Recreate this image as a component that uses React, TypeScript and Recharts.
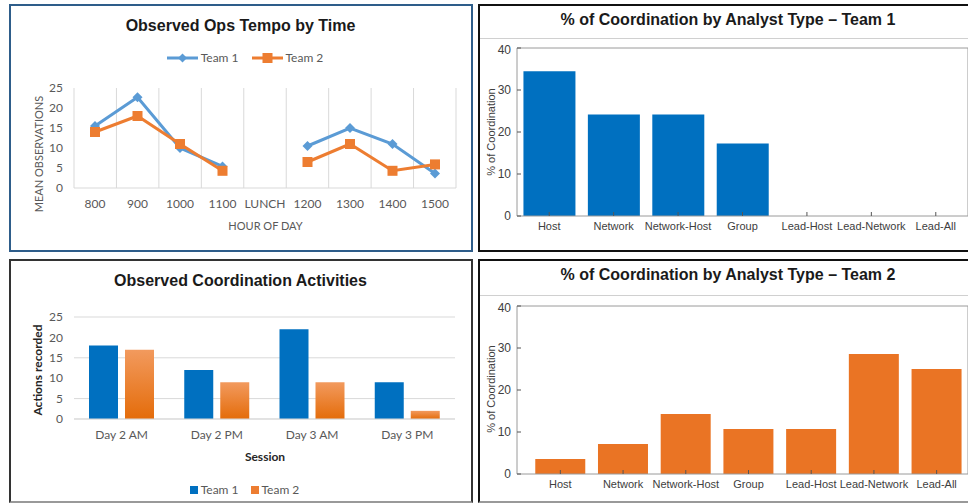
import React from "react";
import { LineChart, Line, BarChart, Bar, XAxis, YAxis, CartesianGrid, Legend } from "recharts";

// Observed Ops Tempo by Time
const hours = ["800", "900", "1000", "1100", "LUNCH", "1200", "1300", "1400", "1500"];
const tempoTeam1 = [15.5, 22.7, 10, 5.4, null, 10.5, 15, 11, 3.6];
const tempoTeam2 = [14, 18, 11, 4.3, null, 6.5, 11, 4.3, 5.9];
const tempoTicks = [0, 5, 10, 15, 20, 25];

// Observed Coordination Activities
const sessions = ["Day 2 AM", "Day 2 PM", "Day 3 AM", "Day 3 PM"];
const actionsTeam1 = [18, 12, 22, 9];
const actionsTeam2 = [17, 9, 9, 2];
const actionTicks = [0, 5, 10, 15, 20, 25];

// % of Coordination by Analyst Type
const analystTypes = ["Host", "Network", "Network-Host", "Group", "Lead-Host", "Lead-Network", "Lead-All"];
const coordTeam1 = [34.48, 24.14, 24.14, 17.24, 0, 0, 0];
const coordTeam2 = [3.57, 7.14, 14.29, 10.71, 10.71, 28.57, 25];
const coordTicks = [0, 10, 20, 30, 40];

const BLUE_LINE = "#5b9bd5";
const ORANGE_LINE = "#ed7d31";
const EXCEL_FONT = "Lato, sans-serif";
const MATLAB_FONT = "'Liberation Sans', Arial, sans-serif";

const tempoData = hours.map((h, i) => ({ hour: h, team1: tempoTeam1[i], team2: tempoTeam2[i] }));
const actionData = sessions.map((s, i) => ({ session: s, team1: actionsTeam1[i], team2: actionsTeam2[i] }));
const coord1Data = analystTypes.map((t, i) => ({ type: t, value: coordTeam1[i] }));
const coord2Data = analystTypes.map((t, i) => ({ type: t, value: coordTeam2[i] }));

function DiamondDot(p: any) {
    if (p.cx == null || p.cy == null || p.value == null) return <g key={`d${p.index}`} />;
    const { cx, cy } = p;
    return <polygon key={`d${p.index}`} points={`${cx},${cy - 5} ${cx + 5},${cy} ${cx},${cy + 5} ${cx - 5},${cy}`} fill={BLUE_LINE} />;
}

function SquareDot(p: any) {
    if (p.cx == null || p.cy == null || p.value == null) return <g key={`s${p.index}`} />;
    return <rect key={`s${p.index}`} x={p.cx - 5} y={p.cy - 5} width={10} height={10} fill={ORANGE_LINE} />;
}

const TempoLegend = () => (
    <div style={{ display: "flex", justifyContent: "center", gap: 13, fontFamily: EXCEL_FONT, fontSize: 12, color: "#595959", lineHeight: "14px" }}>
        <span style={{ display: "flex", alignItems: "center" }}>
            <svg width={31} height={12}>
                <line x1={0} y1={6} x2={31} y2={6} stroke={BLUE_LINE} strokeWidth={3} />
                <polygon points="15.5,1.5 20,6 15.5,10.5 11,6" fill={BLUE_LINE} />
            </svg>
            <span style={{ marginLeft: 3 }}>Team 1</span>
        </span>
        <span style={{ display: "flex", alignItems: "center" }}>
            <svg width={31} height={12}>
                <line x1={0} y1={6} x2={31} y2={6} stroke={ORANGE_LINE} strokeWidth={3} />
                <rect x={10.5} y={1} width={10} height={10} fill={ORANGE_LINE} />
            </svg>
            <span style={{ marginLeft: 3 }}>Team 2</span>
        </span>
    </div>
);

const ActionLegend = () => (
    <div style={{ display: "flex", justifyContent: "center", gap: 12, fontFamily: EXCEL_FONT, fontSize: 12, color: "#595959", lineHeight: "14px" }}>
        <span style={{ display: "flex", alignItems: "center" }}>
            <span style={{ width: 8, height: 8, background: "#0070c0", marginRight: 3 }} />Team 1
        </span>
        <span style={{ display: "flex", alignItems: "center" }}>
            <span style={{ width: 8, height: 8, background: "#ed7d31", marginRight: 3 }} />Team 2
        </span>
    </div>
);

const abs = (left: number, top: number): React.CSSProperties => ({ position: "absolute", left, top });

function Title({ text, cx, cy, font, size = 16 }: { text: string; cx: number; cy: number; font: string; size?: number }) {
    return (
        <div style={{ position: "absolute", left: cx, top: cy, transform: "translate(-50%, -50%)", whiteSpace: "nowrap",
            fontFamily: font, fontSize: size, fontWeight: 700, color: "#1a1a1a", lineHeight: 1 }}>
            {text}
        </div>
    );
}

function AxisTitle({ text, cx, cy, font, size, bold, rotate, color }: any) {
    return (
        <div style={{ position: "absolute", left: cx, top: cy, whiteSpace: "nowrap", lineHeight: 1,
            transform: `translate(-50%, -50%)${rotate ? " rotate(-90deg)" : ""}`,
            fontFamily: font, fontSize: size, fontWeight: bold ? 700 : 400, color }}>
            {text}
        </div>
    );
}

function CoordChart({ data, color, padLeft, top }: { data: { type: string; value: number }[]; color: string; padLeft: number; top: number }) {
    const tickFont = { fontSize: 11, fill: "#404040", fontFamily: MATLAB_FONT };
    return (
        <div style={abs(478, top)}>
            <BarChart width={490} height={200} data={data} margin={{ top: 6, right: 0, bottom: 6, left: 9 }} barCategoryGap="10%">
                <XAxis dataKey="type" interval={0} height={20} tick={tickFont} tickSize={-4} tickMargin={10}
                    tickLine={{ stroke: "#555" }} axisLine={{ stroke: "#9a9a9a" }} padding={{ left: padLeft, right: 0 }} />
                <XAxis xAxisId="top" orientation="top" dataKey="type" interval={0} height={1} mirror tick={false}
                    tickSize={4} tickLine={{ stroke: "#555" }} axisLine={{ stroke: "#9a9a9a" }} padding={{ left: padLeft, right: 0 }} />
                <YAxis domain={[0, 40]} ticks={coordTicks} width={30} tick={{ ...tickFont, fontSize: 12 }} tickSize={-4} tickMargin={10}
                    tickLine={{ stroke: "#555" }} axisLine={{ stroke: "#9a9a9a" }} />
                <YAxis yAxisId="right" orientation="right" domain={[0, 40]} ticks={coordTicks} width={1} mirror tick={false}
                    tickSize={4} tickLine={{ stroke: "#555" }} axisLine={{ stroke: "#9a9a9a" }} />
                <Bar dataKey="value" fill={color} isAnimationActive={false} />
            </BarChart>
        </div>
    );
}

export default function App() {
    const excelTick = { fontSize: 12, fill: "#595959", fontFamily: EXCEL_FONT };
    return (
        <div style={{ position: "absolute", left: 0, top: 0, width: 968, height: 504, overflow: "hidden", background: "#fff" }}>
            {/* panel frames */}
            <div style={{ ...abs(9, 4), width: 464, height: 248, border: "2px solid #2e5d8a", boxSizing: "border-box" }} />
            <div style={{ ...abs(478, 4), width: 500, height: 248, border: "2px solid #111", boxSizing: "border-box" }} />
            <div style={{ ...abs(9, 259), width: 464, height: 244, border: "2px solid #333", borderBottomColor: "#999", boxSizing: "border-box" }} />
            <div style={{ ...abs(478, 259), width: 500, height: 244, border: "2px solid #111", borderBottomColor: "#999", boxSizing: "border-box" }} />
            <div style={{ ...abs(480, 38), width: 490, height: 1, background: "#d0d0d0" }} />
            <div style={{ ...abs(480, 295), width: 490, height: 1, background: "#d0d0d0" }} />

            {/* top-left: line chart */}
            <Title text="Observed Ops Tempo by Time" cx={240.5} cy={26} font="'Liberation Sans', Arial, sans-serif" />
            <div style={abs(0, 40)}>
                <LineChart width={473} height={210} data={tempoData} margin={{ top: 48, right: 17, bottom: 38, left: 34 }}>
                    <CartesianGrid horizontal={false} stroke="#d9d9d9"
                        verticalCoordinatesGenerator={({ offset }: any) =>
                            hours.map((_, i) => offset.left + (i * offset.width) / hours.length).concat(offset.left + offset.width)} />
                    <XAxis dataKey="hour" interval={0} height={24} tick={excelTick} tickLine={false} tickSize={0} tickMargin={11}
                        axisLine={{ stroke: "#d9d9d9" }} padding={{ left: 21, right: 21 }} />
                    <YAxis domain={[0, 25]} ticks={tempoTicks} width={40} tick={excelTick} tickLine={false} tickSize={0}
                        tickMargin={11} axisLine={false} />
                    <Legend layout="horizontal" verticalAlign="middle" align="center" wrapperStyle={{ top: 11 }} content={TempoLegend} />
                    <Line dataKey="team1" stroke={BLUE_LINE} strokeWidth={3} dot={DiamondDot} activeDot={false} isAnimationActive={false} />
                    <Line dataKey="team2" stroke={ORANGE_LINE} strokeWidth={3} dot={SquareDot} activeDot={false} isAnimationActive={false} />
                </LineChart>
            </div>
            <AxisTitle text="MEAN OBSERVATIONS" cx={37.5} cy={154} font={EXCEL_FONT} size={11} rotate color="#595959" />
            <AxisTitle text="HOUR OF DAY" cx={265.5} cy={225} font={EXCEL_FONT} size={11} color="#595959" />

            {/* bottom-left: grouped bars */}
            <Title text="Observed Coordination Activities" cx={240.5} cy={281} font="'Liberation Sans', Arial, sans-serif" />
            <div style={abs(0, 290)}>
                <BarChart width={473} height={212} data={actionData} margin={{ top: 27, right: 18, bottom: 59, left: 34 }}
                    barCategoryGap={15} barGap={7}>
                    <defs>
                        <linearGradient id="team2grad" x1="0" y1="0" x2="0" y2="1">
                            <stop offset="0%" stopColor="#f29a5e" />
                            <stop offset="100%" stopColor="#e46c0a" />
                        </linearGradient>
                    </defs>
                    <CartesianGrid vertical={false} stroke="#d9d9d9" />
                    <XAxis dataKey="session" interval={0} height={24} tick={excelTick} tickLine={false} tickSize={0} tickMargin={11}
                        axisLine={{ stroke: "#d9d9d9" }} />
                    <YAxis domain={[0, 25]} ticks={actionTicks} width={40} tick={excelTick} tickLine={false} tickSize={0}
                        tickMargin={11} axisLine={false} />
                    <Legend layout="horizontal" verticalAlign="middle" align="center" wrapperStyle={{ top: 193 }} content={ActionLegend} />
                    <Bar dataKey="team1" fill="#0070c0" isAnimationActive={false} />
                    <Bar dataKey="team2" fill="url(#team2grad)" isAnimationActive={false} />
                </BarChart>
            </div>
            <AxisTitle text="Actions recorded" cx={37.5} cy={370} font={EXCEL_FONT} size={12} bold rotate color="#262626" />
            <AxisTitle text="Session" cx={265} cy={457} font={EXCEL_FONT} size={12} bold color="#262626" />

            {/* right: MATLAB style bar charts */}
            <Title text="% of Coordination by Analyst Type – Team 1" cx={728} cy={20} font={MATLAB_FONT} />
            <CoordChart data={coord1Data} color="#0070c0" padLeft={0} top={42} />
            <AxisTitle text="% of Coordination" cx={491} cy={132} font={MATLAB_FONT} size={11} rotate color="#404040" />

            <Title text="% of Coordination by Analyst Type – Team 2" cx={728} cy={275} font={MATLAB_FONT} />
            <CoordChart data={coord2Data} color="#ea7424" padLeft={12} top={300} />
            <AxisTitle text="% of Coordination" cx={491} cy={389} font={MATLAB_FONT} size={11} rotate color="#404040" />
        </div>
    );
}
